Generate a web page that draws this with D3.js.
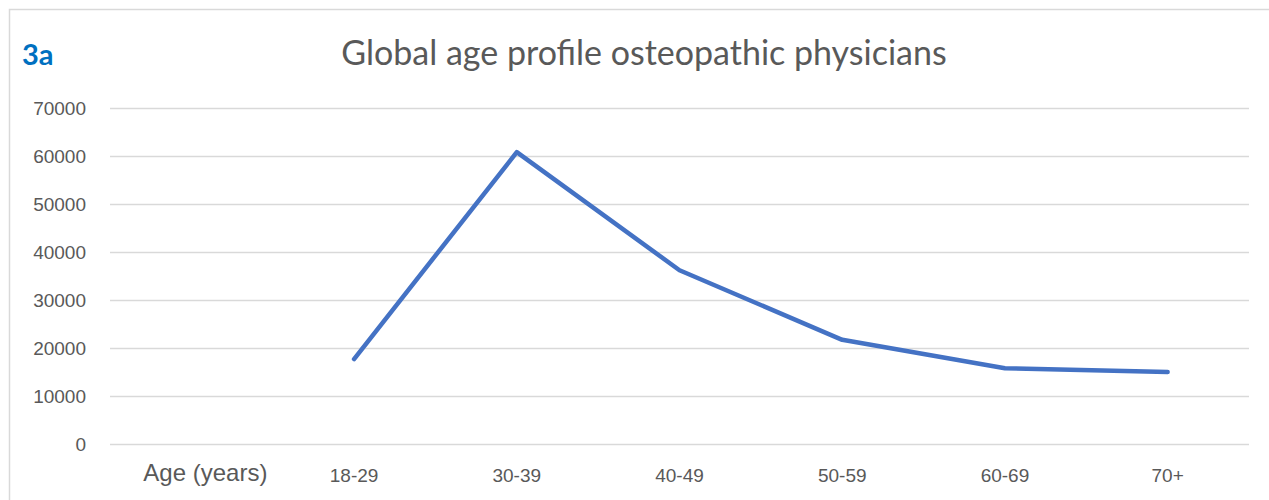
<!DOCTYPE html>
<html>
<head>
<meta charset="utf-8">
<script src="https://d3js.org/d3.v7.min.js"></script>
<style>
  body { margin: 0; background: #fff; }
  svg { display: block; font-family: Lato, "Open Sans", sans-serif; }
</style>
</head>
<body>
<div class="chart"></div>
<script>
// age groups and counts of osteopathic physicians
var categories = ["Age (years)", "18-29", "30-39", "40-49", "50-59", "60-69", "70+"];
var values = [null, 17700, 60800, 36200, 21700, 15800, 15000];
var yTicks = [0, 10000, 20000, 30000, 40000, 50000, 60000, 70000];

const width = 1269, height = 500;
const margin = {top: 108, right: 20, bottom: 56, left: 110};
const plotRight = 1249;

var svg = d3.select(".chart").append("svg")
  .attr("width", width)
  .attr("height", height);

// chart frame
svg.append("rect")
  .attr("x", 9.5).attr("y", 9.5)
  .attr("width", width + 10).attr("height", height + 10)
  .attr("fill", "none")
  .attr("stroke", "#d9d9d9")
  .attr("stroke-width", 1.5);

var x = d3.scaleBand()
  .domain(categories)
  .range([margin.left, plotRight]);

var y = d3.scaleLinear()
  .domain([0, 70000])
  .range([444, 108]);

// gridlines
var yAxis = svg.append("g")
  .attr("transform", "translate(" + margin.left + ",0)")
  .call(d3.axisLeft(y).tickValues(yTicks).tickSize(-(plotRight - margin.left)).tickPadding(24).tickFormat(d3.format("d")));
yAxis.select(".domain").remove();
yAxis.selectAll(".tick line").attr("stroke", "#d9d9d9").attr("stroke-width", 1.5);
yAxis.selectAll(".tick text")
  .attr("fill", "#595959")
  .style("font-size", "19px");

var xAxis = svg.append("g")
  .attr("transform", "translate(0,444)")
  .call(d3.axisBottom(x).tickSize(0).tickPadding(25));
xAxis.select(".domain").remove();
xAxis.selectAll(".tick text")
  .attr("fill", "#595959")
  .style("font-size", "19px")
  .attr("dy", "0.71em");
xAxis.selectAll(".tick text").filter(d => d === "Age (years)")
  .style("font-size", "24px")
  .attr("dx", 14)
  .attr("dy", "0.5em");

var line = d3.line()
  .defined(d => d.v !== null)
  .x(d => x(d.c) + x.bandwidth() / 2)
  .y(d => y(d.v));

svg.append("path")
  .datum(categories.map((c, i) => ({c: c, v: values[i]})))
  .attr("d", line)
  .attr("fill", "none")
  .attr("stroke", "#4472c4")
  .attr("stroke-width", 4.5)
  .attr("stroke-linejoin", "round")
  .attr("stroke-linecap", "round");

// titles
svg.append("text")
  .attr("x", 22).attr("y", 65)
  .attr("fill", "#0070c0")
  .style("font-size", "29px")
  .style("font-weight", "bold")
  .text("3a");

svg.append("text")
  .attr("x", 644).attr("y", 65)
  .attr("text-anchor", "middle")
  .attr("fill", "#595959")
  .style("font-size", "34px")
  .text("Global age profile osteopathic physicians");
</script>
</body>
</html>
